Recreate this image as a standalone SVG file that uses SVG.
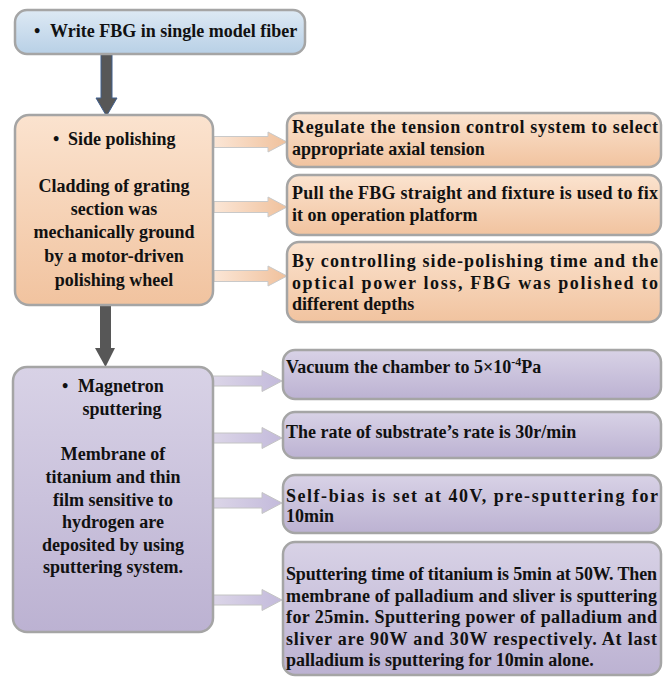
<svg xmlns="http://www.w3.org/2000/svg" width="663" height="677" viewBox="0 0 663 677">
<defs>
<linearGradient id="gBlue" x1="0" y1="0" x2="0" y2="1"><stop offset="0" stop-color="#dde9f4"/><stop offset="1" stop-color="#b8d0e6"/></linearGradient>
<linearGradient id="gPeach" x1="0" y1="0" x2="0" y2="1"><stop offset="0" stop-color="#fbe3cf"/><stop offset="1" stop-color="#f1c39f"/></linearGradient>
<linearGradient id="gPurple" x1="0" y1="0" x2="0" y2="1"><stop offset="0" stop-color="#d8d2e6"/><stop offset="1" stop-color="#bcb2d2"/></linearGradient>
<linearGradient id="gPeachA" x1="0" y1="0" x2="1" y2="0"><stop offset="0" stop-color="#fbe6d6"/><stop offset="1" stop-color="#f0c19c"/></linearGradient>
<linearGradient id="gPurpleA" x1="0" y1="0" x2="1" y2="0"><stop offset="0" stop-color="#dcd6e8"/><stop offset="1" stop-color="#c3badb"/></linearGradient>
</defs>
<style>
.box{stroke:#a5a5a5;stroke-width:2.5}
.t{font-family:"Liberation Serif","Times New Roman",serif;font-weight:bold;font-size:18px;fill:#111}
.c{text-anchor:middle}
.pa{fill:url(#gPeachA);stroke:#c9c9c9;stroke-width:1}
.ua{fill:url(#gPurpleA);stroke:#c4c4c4;stroke-width:1}
.da{fill:#575757}
</style>
<g id="connectors">
<polygon class="da" points="101,54 112,54 112,98 117,98 106.5,116 96,98 101,98" stroke="#41608f" stroke-width="1"/>
<polygon class="da" points="100,305 111,305 111,348 115,348 105.5,367 95,348 100,348"/>
<polygon class="pa" points="214,136.5 268,136.5 268,132 287,142 268,152 268,147.5 214,147.5"/>
<polygon class="pa" points="214,201.5 268,201.5 268,197 287,207 268,217 268,212.5 214,212.5"/>
<polygon class="pa" points="214,270.5 268,270.5 268,266 287,276 268,286 268,281.5 214,281.5"/>
<polygon class="ua" points="212,376 262,376 262,370.5 282,381 262,391.5 262,386 212,386"/>
<polygon class="ua" points="212,433 262,433 262,427.5 282,438 262,448.5 262,443 212,443"/>
<polygon class="ua" points="212,498 262,498 262,492.5 282,503 262,513.5 262,508 212,508"/>
<polygon class="ua" points="212,595 262,595 262,589.5 282,600 262,610.5 262,605 212,605"/>
</g>
<g id="n-write">
<rect class="box" x="15" y="10" width="290" height="44" rx="12" fill="url(#gBlue)"/>
<text class="t" x="34" y="37">•</text>
<text class="t" x="50" y="37">Write FBG in single model fiber</text>
</g>
<g id="n-side">
<rect class="box" x="15" y="115" width="198" height="190" rx="14" fill="url(#gPeach)"/>
<text class="t" x="53" y="145">•</text>
<text class="t" x="68" y="145">Side polishing</text>
<text class="t c" x="114" y="192">Cladding of grating</text>
<text class="t c" x="114" y="215">section was</text>
<text class="t c" x="114" y="238">mechanically ground</text>
<text class="t c" x="114" y="262">by a motor-driven</text>
<text class="t c" x="114" y="286">polishing wheel</text>
</g>
<g id="n-tension">
<rect class="box" x="287" y="113" width="374" height="54" rx="12" fill="url(#gPeach)"/>
<text class="t" x="292" y="133" textLength="366" lengthAdjust="spacing">Regulate the tension control system to select</text>
<text class="t" x="292" y="155">appropriate axial tension</text>
</g>
<g id="n-pull">
<rect class="box" x="287" y="175" width="374" height="60" rx="12" fill="url(#gPeach)"/>
<text class="t" x="292" y="199" textLength="366" lengthAdjust="spacing">Pull the FBG straight and fixture is used to fix</text>
<text class="t" x="292" y="221">it on operation platform</text>
</g>
<g id="n-control">
<rect class="box" x="287" y="242" width="374" height="80" rx="12" fill="url(#gPeach)"/>
<text class="t" x="292" y="267" textLength="366" lengthAdjust="spacing">By controlling side-polishing time and the</text>
<text class="t" x="292" y="289" textLength="366" lengthAdjust="spacing">optical power loss, FBG was polished to</text>
<text class="t" x="292" y="310">different depths</text>
</g>
<g id="n-magnetron">
<rect class="box" x="13" y="367" width="200" height="265" rx="14" fill="url(#gPurple)"/>
<text class="t" x="62" y="392">•</text>
<text class="t" x="78" y="392">Magnetron</text>
<text class="t c" x="122" y="415">sputtering</text>
<text class="t c" x="113" y="460">Membrane of</text>
<text class="t c" x="113" y="483">titanium and thin</text>
<text class="t c" x="113" y="506">film sensitive to</text>
<text class="t c" x="113" y="528">hydrogen are</text>
<text class="t c" x="113" y="551">deposited by using</text>
<text class="t c" x="113" y="573">sputtering system.</text>
</g>
<g id="n-vacuum">
<rect class="box" x="283" y="350" width="378" height="49" rx="12" fill="url(#gPurple)"/>
<text class="t" x="286" y="373">Vacuum the chamber to 5×10<tspan font-size="12" dy="-7">-4</tspan><tspan dy="7">Pa</tspan></text>
</g>
<g id="n-rate">
<rect class="box" x="283" y="412" width="378" height="46" rx="12" fill="url(#gPurple)"/>
<text class="t" x="286" y="438">The rate of substrate’s rate is 30r/min</text>
</g>
<g id="n-bias">
<rect class="box" x="283" y="475" width="378" height="58" rx="12" fill="url(#gPurple)"/>
<text class="t" x="286" y="502" textLength="372" lengthAdjust="spacing">Self-bias is set at 40V, pre-sputtering for</text>
<text class="t" x="286" y="522">10min</text>
</g>
<g id="n-time">
<rect class="box" x="283" y="542" width="378" height="133" rx="12" fill="url(#gPurple)"/>
<text class="t" x="286" y="580" textLength="371" lengthAdjust="spacing">Sputtering time of titanium is 5min at 50W. Then</text>
<text class="t" x="286" y="601.5" textLength="371" lengthAdjust="spacing">membrane of palladium and sliver is sputtering</text>
<text class="t" x="286" y="623" textLength="371" lengthAdjust="spacing">for 25min. Sputtering power of palladium and</text>
<text class="t" x="286" y="644.5" textLength="371" lengthAdjust="spacing">sliver are 90W and 30W respectively. At last</text>
<text class="t" x="286" y="666">palladium is sputtering for 10min alone.</text>
</g>
</svg>
